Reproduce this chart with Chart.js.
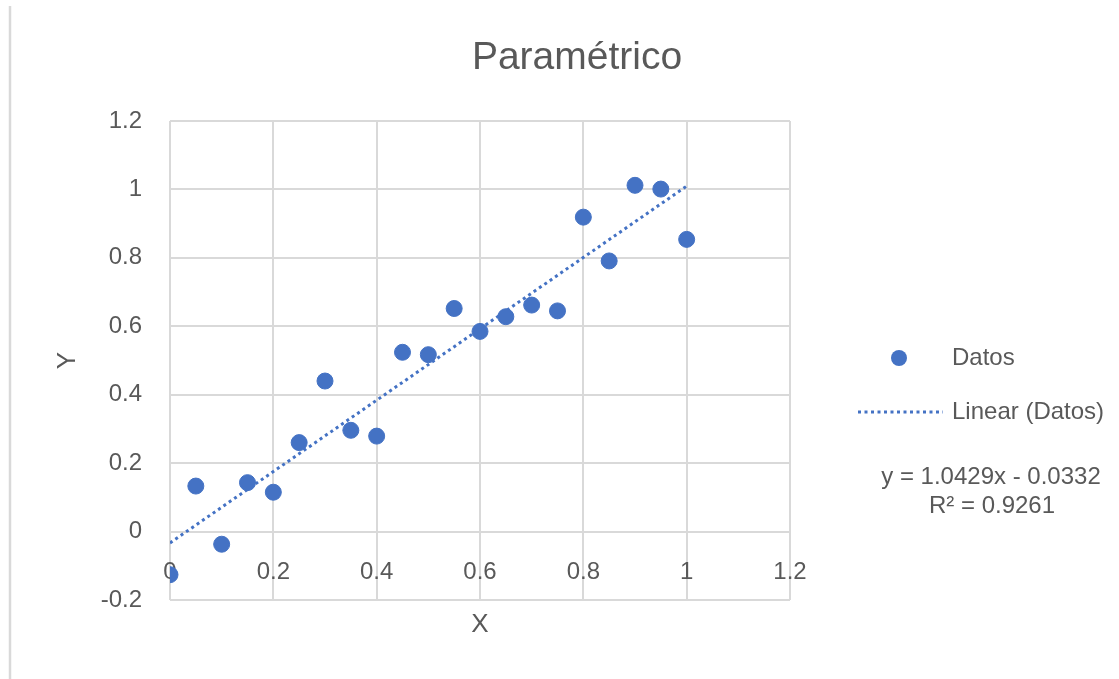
<!DOCTYPE html>
<html lang="es">
<head>
  <meta charset="UTF-8" />
  <title>Paramétrico</title>
  <script src="https://cdn.jsdelivr.net/npm/chart.js"></script>
  <style>
    html, body { margin: 0; padding: 0; background: #ffffff; }
    #wrap { position: relative; width: 1119px; height: 679px; }
  </style>
</head>
<body>
  <div id="wrap"><canvas id="chart" width="1119" height="679"></canvas></div>

  <script>
    // Muestras medidas
    const xValues = [0, 0.05, 0.1, 0.15, 0.2, 0.25, 0.3, 0.35, 0.4, 0.45, 0.5,
                     0.55, 0.6, 0.65, 0.7, 0.75, 0.8, 0.85, 0.9, 0.95, 1];
    const yValues = [-0.126, 0.133, -0.037, 0.143, 0.115, 0.260, 0.440, 0.296, 0.279, 0.524, 0.517,
                     0.652, 0.585, 0.628, 0.662, 0.645, 0.919, 0.791, 1.012, 1.001, 0.854];

    // Recta de ajuste (y = a·x + b) y su R²
    const trendSlope = 1.0429;
    const trendIntercept = -0.0332;
    const rSquared = 0.9261;
    const trendRange = [0, 1];

    const textColor = '#595959';
    const gridColor = '#d9d9d9';
    const blue = '#4472c4';
    const fontFamily = '"Liberation Sans", Arial, sans-serif';

    const points = xValues.map((x, i) => ({ x: x, y: yValues[i] }));
    const trendPoints = trendRange.map(x => ({ x: x, y: trendSlope * x + trendIntercept }));

    const fmt = v => v.toFixed(4);
    const equationText = 'y = ' + fmt(trendSlope) + 'x - ' + fmt(Math.abs(trendIntercept));
    const r2Text = 'R² = ' + fmt(rSquared);

    // 0, 0.2, ... 1, 1.2 como en Excel (sin ceros sobrantes)
    const tickLabel = v => {
      const r = Math.round(v * 10) / 10;
      return r === 0 ? '0' : String(r);
    };

    // título, etiquetas, leyenda y marco
    const decorations = {
      id: 'decorations',
      afterDraw(chart) {
        const ctx = chart.ctx;
        ctx.save();

        ctx.strokeStyle = gridColor;
        ctx.lineWidth = 2.5;
        ctx.beginPath();
        ctx.moveTo(10, 6);
        ctx.lineTo(10, 679);
        ctx.stroke();

        ctx.fillStyle = textColor;
        ctx.textAlign = 'center';
        ctx.textBaseline = 'middle';
        ctx.font = '39px ' + fontFamily;
        ctx.fillText('Paramétrico', 577, 58);

        ctx.font = '26px ' + fontFamily;
        ctx.fillText('X', 480, 625);

        // leyenda
        ctx.fillStyle = blue;
        ctx.beginPath();
        ctx.arc(899, 358, 8, 0, Math.PI * 2);
        ctx.fill();

        ctx.strokeStyle = blue;
        ctx.lineWidth = 3;
        ctx.setLineDash([3, 3.5]);
        ctx.beginPath();
        ctx.moveTo(858, 412);
        ctx.lineTo(943, 412);
        ctx.stroke();
        ctx.setLineDash([]);

        ctx.fillStyle = textColor;
        ctx.font = '24px ' + fontFamily;
        ctx.textAlign = 'left';
        ctx.fillText('Datos', 952, 358);
        ctx.fillText('Linear (Datos)', 952, 412);

        ctx.textAlign = 'center';
        ctx.fillText(equationText, 991, 477);
        ctx.fillText(r2Text, 992, 506);

        ctx.restore();
      }
    };

    const chart = new Chart(document.getElementById('chart'), {
      type: 'scatter',
      data: {
        datasets: [
          {
            label: 'Linear (Datos)',
            type: 'line',
            data: trendPoints,
            borderColor: blue,
            borderWidth: 3,
            borderDash: [3, 3.5],
            pointRadius: 0,
            fill: false,
            order: 2
          },
          {
            label: 'Datos',
            data: points,
            backgroundColor: blue,
            borderColor: blue,
            pointRadius: 8,
            pointHoverRadius: 8,
            order: 1
          }
        ]
      },
      options: {
        responsive: false,
        animation: false,
        layout: { padding: { left: 0, top: 121, right: 329, bottom: 79 } },
        plugins: {
          legend: { display: false },
          title: { display: false },
          tooltip: { enabled: false }
        },
        scales: {
          x: {
            type: 'linear',
            position: { y: 0 },
            min: 0,
            max: 1.2,
            ticks: {
              stepSize: 0.2,
              color: textColor,
              padding: 26,
              font: { family: fontFamily, size: 24 },
              callback: tickLabel
            },
            grid: { color: gridColor, lineWidth: 2, drawTicks: false },
            border: { display: false }
          },
          y: {
            type: 'linear',
            position: 'left',
            min: -0.2,
            max: 1.2,
            afterFit(scale) { scale.width = 170; },
            ticks: {
              stepSize: 0.2,
              color: textColor,
              padding: 28,
              font: { family: fontFamily, size: 24 },
              callback: tickLabel
            },
            grid: { color: gridColor, lineWidth: 2, drawTicks: false },
            border: { display: false },
            title: {
              display: true,
              text: 'Y',
              color: textColor,
              padding: { top: 52, bottom: 0 },
              font: { family: fontFamily, size: 26 }
            }
          }
        }
      },
      plugins: [decorations]
    });
  </script>
</body>
</html>
